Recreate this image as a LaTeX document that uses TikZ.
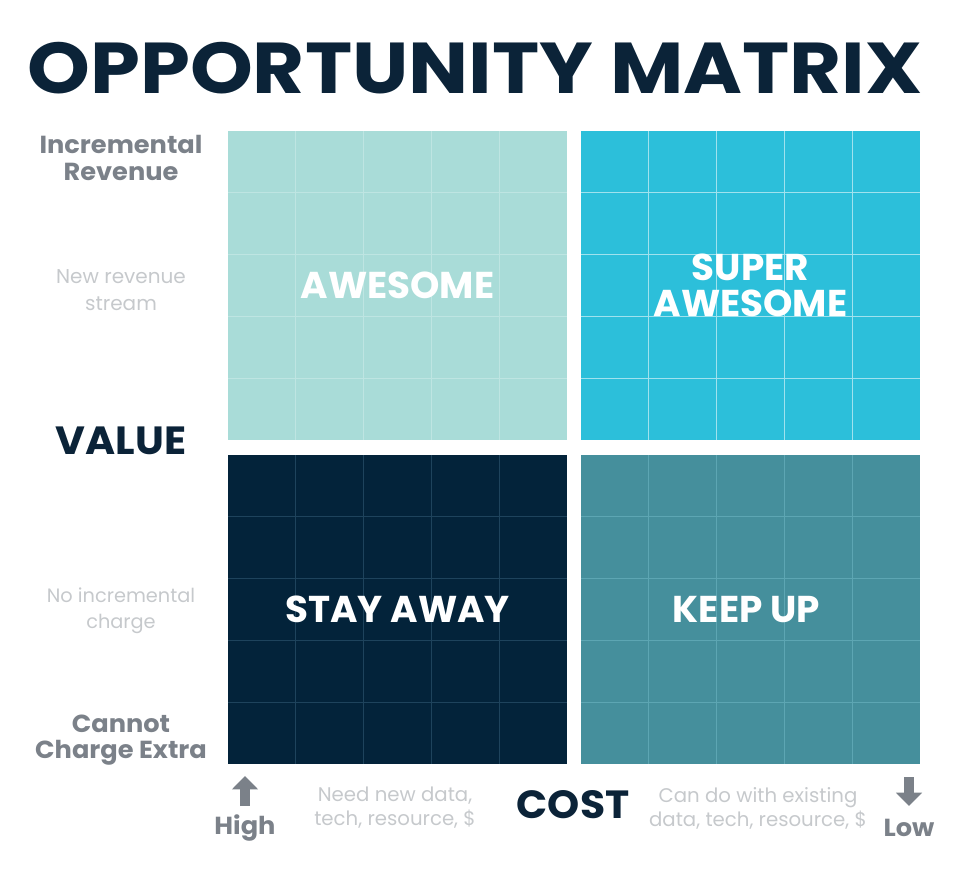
\documentclass[tikz,border=0pt]{standalone}
\usepackage{fontspec}
\setmainfont{Poppins}
\usetikzlibrary{arrows.meta, positioning, calc}
\definecolor{navy}{HTML}{0B2338}
\definecolor{qAwesome}{HTML}{A9DCD8}
\definecolor{qSuper}{HTML}{2CBFDA}
\definecolor{qStay}{HTML}{03233A}
\definecolor{qKeep}{HTML}{458F9C}
\definecolor{gStay}{HTML}{1E435C}
\definecolor{gKeep}{HTML}{5DA6B3}
\definecolor{axisgray}{HTML}{7B8189}
\definecolor{softgray}{HTML}{C6C9CC}
\tikzset{
    quadlbl/.style={text=white, font=\fontsize{28}{27}\selectfont\bfseries, align=center},
    axislbl/.style={text=axisgray, font=\fontsize{18.5}{20}\selectfont\bfseries, align=center, xscale=1.04},
    softlbl/.style={text=softgray, font=\fontsize{15}{20}\selectfont, align=center},
    biglbl/.style={text=navy, font=\fontsize{29.5}{30}\selectfont\bfseries, xscale=1.04},
    blockarrow/.style={draw=axisgray, line width=8pt, -{Triangle[width=19pt, length=10pt]}}
}
\begin{document}
\begin{tikzpicture}[x=0.75pt, y=-0.75pt]
    \useasboundingbox (0,0) rectangle (970,878);
    % Judul
    \node[text=navy, font=\fontsize{54}{55}\selectfont\bfseries, xscale=1.11] (title) at (475,68) {OPPORTUNITY MATRIX};
    % Kuadran: {nama}{x}{y}{warna}{garis}{label}
    \foreach \nm/\qx/\qy/\col/\gcol/\lbl in {
        awesome/228/131/qAwesome/{white!25!qAwesome}/{AWESOME},
        super/581/131/qSuper/{white!55!qSuper}/{SUPER\\AWESOME},
        stay/228/455/qStay/gStay/{STAY AWAY},
        keep/581/455/qKeep/gKeep/{KEEP UP}
    } {
        \fill[\col] (\qx,\qy) rectangle ++(339,309);
        \foreach \i in {1,...,4} {
            \draw[\gcol, line width=0.75pt] (\qx+\i*67.8,\qy) -- ++(0,309);
            \draw[\gcol, line width=0.75pt] (\qx,\qy+\i*61.8) -- ++(339,0);
        }
        \node[quadlbl] (\nm) at (\qx+169.5,\qy+154.5) {\lbl};
    }
    % Sumbu nilai
    \node[axislbl] (incRev) at (121,158) {Incremental\\Revenue};
    \node[softlbl] (newRev) at (121,290) {New revenue\\stream};
    \node[biglbl] (value) at (121,441) {VALUE};
    \node[softlbl, font=\fontsize{14.5}{19.5}\selectfont] (noInc) at (121,611) {No incremental\\charge};
    \node[axislbl] (noCharge) at (121,740) {Cannot\\Charge Extra};
    % Sumbu biaya
    \node[axislbl] (high) at (245,828) {High};
    \node[softlbl, font=\fontsize{14.8}{18}\selectfont] (needNew) at (395,808) {Need new data,\\tech, resource, \$};
    \node[biglbl] (cost) at (573,805) {COST};
    \node[softlbl, font=\fontsize{14.8}{18}\selectfont] (canDo) at (758,808) {Can do with existing\\data, tech, resource, \$};
    \node[axislbl] (low) at (909,828) {Low};
    \coordinate (upBase) at (245,806);
    \coordinate (upTip) at (245,776);
    \coordinate (downBase) at (909,777);
    \coordinate (downTip) at (909,806);
    \draw[blockarrow] (upBase) -- (upTip);
    \draw[blockarrow] (downBase) -- (downTip);
\end{tikzpicture}
\end{document}
